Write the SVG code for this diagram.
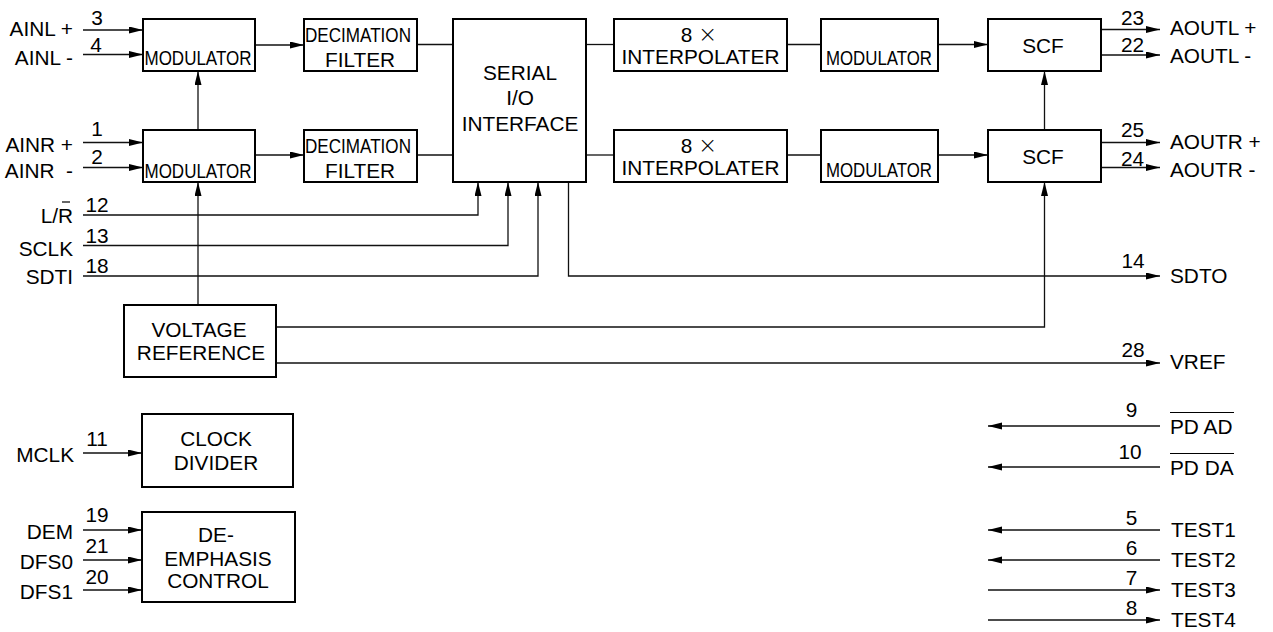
<svg xmlns="http://www.w3.org/2000/svg" width="1273" height="632" viewBox="0 0 1273 632">
<style>
text{font-family:"Liberation Sans",Arial,sans-serif;font-size:20.8px;fill:#000}
.box{fill:#fff;stroke:#000;stroke-width:2}
.c{text-anchor:middle}
.e{text-anchor:end}
.w{fill:none;stroke:#111;stroke-width:1.3}
.a{marker-end:url(#ah)}
.x{font-family:"DejaVu Sans",sans-serif;font-weight:200;font-size:23px}
</style>
<defs>
<marker id="ah" markerUnits="userSpaceOnUse" markerWidth="15" markerHeight="8" refX="14" refY="3.5" orient="auto">
<path d="M0,0 L14,3.5 L0,7 z" fill="#000"/>
</marker>
</defs>
<rect width="1273" height="632" fill="#fff"/>

<g id="connectors">
<line class="w a" x1="83" y1="30" x2="143" y2="30"/>
<line class="w a" x1="83" y1="54.5" x2="143" y2="54.5"/>
<line class="w a" x1="83" y1="142.5" x2="143" y2="142.5"/>
<line class="w a" x1="83" y1="167.5" x2="143" y2="167.5"/>
<line class="w a" x1="198" y1="130" x2="198" y2="71"/>
<line class="w a" x1="198" y1="305" x2="198" y2="182"/>
<line class="w a" x1="255" y1="45" x2="304" y2="45"/>
<line class="w a" x1="255" y1="155" x2="304" y2="155"/>
<line class="w" x1="417" y1="44.5" x2="453" y2="44.5"/>
<line class="w" x1="417" y1="155" x2="453" y2="155"/>
<line class="w" x1="586" y1="44.5" x2="614" y2="44.5"/>
<line class="w" x1="586" y1="155" x2="614" y2="155"/>
<line class="w" x1="787" y1="44.5" x2="821" y2="44.5"/>
<line class="w" x1="787" y1="155" x2="821" y2="155"/>
<line class="w a" x1="938" y1="44.5" x2="988" y2="44.5"/>
<line class="w a" x1="938" y1="155" x2="988" y2="155"/>
<line class="w a" x1="1044.5" y1="130" x2="1044.5" y2="71"/>
<line class="w a" x1="1101" y1="29.5" x2="1160" y2="29.5"/>
<line class="w a" x1="1101" y1="55" x2="1160" y2="55"/>
<line class="w a" x1="1101" y1="142.5" x2="1160" y2="142.5"/>
<line class="w a" x1="1101" y1="167.5" x2="1160" y2="167.5"/>
<polyline class="w a" points="83,215 478,215 478,182"/>
<polyline class="w a" points="83,245.5 508,245.5 508,182"/>
<polyline class="w a" points="83,276 538,276 538,182"/>
<polyline class="w a" points="568.5,182 568.5,276 1160,276"/>
<polyline class="w a" points="276,327 1044.5,327 1044.5,182"/>
<line class="w a" x1="276" y1="363" x2="1160" y2="363"/>
<line class="w a" x1="83" y1="453" x2="142" y2="453"/>
<line class="w a" x1="83" y1="530" x2="142" y2="530"/>
<line class="w a" x1="83" y1="560" x2="142" y2="560"/>
<line class="w a" x1="83" y1="590" x2="142" y2="590"/>
<line class="w a" x1="1160" y1="426" x2="988" y2="426"/>
<line class="w a" x1="1160" y1="467" x2="988" y2="467"/>
<line class="w a" x1="1160" y1="530" x2="988" y2="530"/>
<line class="w a" x1="1160" y1="560" x2="988" y2="560"/>
<line class="w a" x1="988" y1="590" x2="1160" y2="590"/>
<line class="w a" x1="988" y1="620" x2="1160" y2="620"/>
</g>

<g id="mod-l">
<rect class="box" x="143" y="19" width="112" height="52"/>
<text class="c" x="198" y="65" textLength="107" lengthAdjust="spacingAndGlyphs">MODULATOR</text>
</g>
<g id="mod-r">
<rect class="box" x="143" y="130" width="112" height="52"/>
<text class="c" x="198" y="178" textLength="107" lengthAdjust="spacingAndGlyphs">MODULATOR</text>
</g>
<g id="dec-l">
<rect class="box" x="304" y="19" width="113" height="52"/>
<text class="c" x="358" y="41.7" textLength="106" lengthAdjust="spacingAndGlyphs">DECIMATION</text>
<text class="c" x="360" y="66.7">FILTER</text>
</g>
<g id="dec-r">
<rect class="box" x="304" y="130" width="113" height="52"/>
<text class="c" x="358" y="152.7" textLength="106" lengthAdjust="spacingAndGlyphs">DECIMATION</text>
<text class="c" x="360" y="178">FILTER</text>
</g>
<g id="serial">
<rect class="box" x="453" y="19" width="133" height="163"/>
<text class="c" x="520" y="80">SERIAL</text>
<text class="c" x="520" y="105">I/O</text>
<text class="c" x="520" y="130.7">INTERFACE</text>
</g>
<g id="interp-l">
<rect class="box" x="614" y="19" width="173" height="52"/>
<text class="c" x="699" y="41.7">8 <tspan class="x">×</tspan></text>
<text class="c" x="700.5" y="64">INTERPOLATER</text>
</g>
<g id="interp-r">
<rect class="box" x="614" y="130" width="173" height="52"/>
<text class="c" x="699" y="152.7">8 <tspan class="x">×</tspan></text>
<text class="c" x="700.5" y="175">INTERPOLATER</text>
</g>
<g id="dmod-l">
<rect class="box" x="821" y="19" width="117" height="52"/>
<text class="c" x="879" y="65" textLength="106" lengthAdjust="spacingAndGlyphs">MODULATOR</text>
</g>
<g id="dmod-r">
<rect class="box" x="821" y="130" width="117" height="52"/>
<text class="c" x="879" y="177" textLength="106" lengthAdjust="spacingAndGlyphs">MODULATOR</text>
</g>
<g id="scf-l">
<rect class="box" x="988" y="19" width="113" height="52"/>
<text class="c" x="1043" y="53.3">SCF</text>
</g>
<g id="scf-r">
<rect class="box" x="988" y="130" width="113" height="52"/>
<text class="c" x="1043" y="164">SCF</text>
</g>
<g id="vref">
<rect class="box" x="124" y="305" width="152" height="72"/>
<text class="c" x="199" y="336.7">VOLTAGE</text>
<text class="c" x="201" y="360">REFERENCE</text>
</g>
<g id="clock">
<rect class="box" x="142" y="414" width="151" height="73"/>
<text class="c" x="216" y="445.7">CLOCK</text>
<text class="c" x="216" y="470">DIVIDER</text>
</g>
<g id="deemph">
<rect class="box" x="142" y="512" width="153" height="90"/>
<text class="c" x="216" y="542.3">DE-</text>
<text class="c" x="218" y="565.7">EMPHASIS</text>
<text class="c" x="218" y="588.3">CONTROL</text>
</g>

<g id="pins-left">
<text class="e" x="73" y="36">AINL +</text>
<text class="e" x="73" y="65">AINL -</text>
<text class="e" x="73" y="151.7">AINR +</text>
<text class="e" x="73" y="178" xml:space="preserve">AINR  -</text>
<text class="e" x="73" y="223.3">L/R</text>
<line x1="62" y1="202" x2="70" y2="202" stroke="#000" stroke-width="1.2"/>
<text class="e" x="73" y="256">SCLK</text>
<text class="e" x="73" y="284">SDTI</text>
<text class="e" x="74" y="461.7">MCLK</text>
<text class="e" x="73" y="539.3">DEM</text>
<text class="e" x="73" y="569">DFS0</text>
<text class="e" x="73" y="599">DFS1</text>
<text class="c" x="97" y="25">3</text>
<text class="c" x="96" y="51.7">4</text>
<text class="c" x="97" y="136">1</text>
<text class="c" x="97" y="164">2</text>
<text class="c" x="97" y="211.7">12</text>
<text class="c" x="97" y="243.3">13</text>
<text class="c" x="97" y="273.3">18</text>
<text class="c" x="97" y="445.7">11</text>
<text class="c" x="97" y="521.7">19</text>
<text class="c" x="97" y="553.3">21</text>
<text class="c" x="97" y="584">20</text>
</g>

<g id="pins-right">
<text x="1170" y="35">AOUTL +</text>
<text x="1170" y="63.3">AOUTL -</text>
<text x="1170" y="149">AOUTR +</text>
<text x="1170" y="176.7">AOUTR -</text>
<text x="1170" y="283">SDTO</text>
<text x="1170" y="369">VREF</text>
<text x="1170" y="434">PD AD</text>
<line x1="1170" y1="412.5" x2="1234" y2="412.5" stroke="#000" stroke-width="1.2"/>
<text x="1170" y="475">PD DA</text>
<line x1="1170" y1="453.5" x2="1234" y2="453.5" stroke="#000" stroke-width="1.2"/>
<text x="1171" y="536.7">TEST1</text>
<text x="1171" y="566.7">TEST2</text>
<text x="1171" y="597.3">TEST3</text>
<text x="1171" y="626.7">TEST4</text>
<text class="c" x="1132.5" y="25">23</text>
<text class="c" x="1132.5" y="51.7">22</text>
<text class="c" x="1132.5" y="136.7">25</text>
<text class="c" x="1132.5" y="165.7">24</text>
<text class="c" x="1133" y="268.3">14</text>
<text class="c" x="1133" y="356.7">28</text>
<text class="c" x="1131.5" y="417.3">9</text>
<text class="c" x="1130" y="459">10</text>
<text class="c" x="1131.5" y="525">5</text>
<text class="c" x="1131.5" y="555">6</text>
<text class="c" x="1131.5" y="585">7</text>
<text class="c" x="1131.5" y="615">8</text>
</g>
</svg>
